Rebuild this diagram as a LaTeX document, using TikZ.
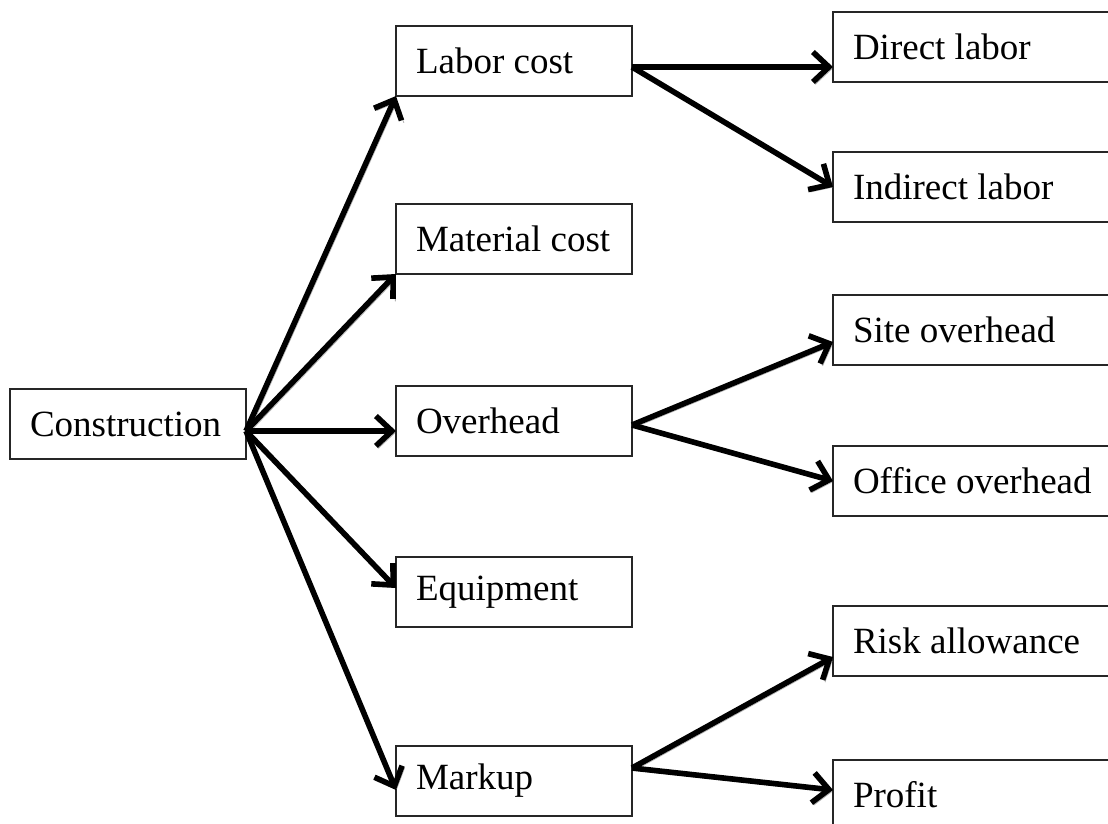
\documentclass[tikz,border=0pt]{standalone}
\usepackage{fontspec}
\setmainfont{Liberation Serif}
\usetikzlibrary{arrows.meta}

\begin{document}
\begin{tikzpicture}[x=0.5pt,y=-0.5pt,
	costbox/.style={draw=black!85, line width=0.75pt, rectangle, anchor=north west, inner xsep=10pt, inner ysep=0pt, outer sep=0pt, minimum height=35pt, align=flush left, font=\fontsize{18.5}{22}\selectfont},
	midbox/.style={costbox, text width=98pt},
	endbox/.style={costbox, text width=130pt},
	costarrow/.style={line width=2.8pt, -{Straight Barb[length=8pt,width=15pt]},
		preaction={draw=black!30, transform canvas={shift={(1.2pt,-1.2pt)}}}}]
	\useasboundingbox (0,0) rectangle (1108,824);
	\clip (0,0) rectangle (1108,824);
	
	\node[midbox] at (10,389) (con) {Construction};
	\node[midbox] at (396,26) (labor) {Labor cost};
	\node[midbox] at (396,204) (material) {Material cost};
	\node[midbox] at (396,386) (over) {Overhead};
	\node[midbox] at (396,557) (equip) {Equipment};
	\node[midbox] at (396,746) (markup) {Markup};
	
	\node[endbox] at (833,12) (direct) {Direct labor};
	\node[endbox] at (833,152) (indirect) {Indirect labor};
	\node[endbox] at (833,295) (site) {Site overhead};
	\node[endbox] at (833,446) (office) {Office overhead};
	\node[endbox] at (833,606) (risk) {Risk allowance};
	\node[endbox] at (833,760) (profit) {Profit};
	
	\coordinate (c0) at ([yshift=-3.5pt]con.east);
	\draw[costarrow] (c0)--(labor.south west);
	\draw[costarrow] (c0)--(material.south west);
	\draw[costarrow] (c0)--([yshift=-5pt]over.west);
	\draw[costarrow] (c0)--([yshift=2pt]equip.west);
	\draw[costarrow] (c0)--([yshift=-4.5pt]markup.west);
	
	\draw[costarrow] ([yshift=-3pt]labor.east)--([yshift=-10pt]direct.west);
	\draw[costarrow] ([yshift=-3pt]labor.east)--(indirect.west);
	
	\draw[costarrow] ([yshift=-2pt]over.east)--([yshift=-6pt]site.west);
	\draw[costarrow] ([yshift=-2pt]over.east)--(office.west);
	
	\draw[costarrow] ([yshift=6.5pt]markup.east)--([yshift=-8pt]risk.west);
	\draw[costarrow] ([yshift=6.5pt]markup.east)--([yshift=2.5pt]profit.west);
\end{tikzpicture}
\end{document}
